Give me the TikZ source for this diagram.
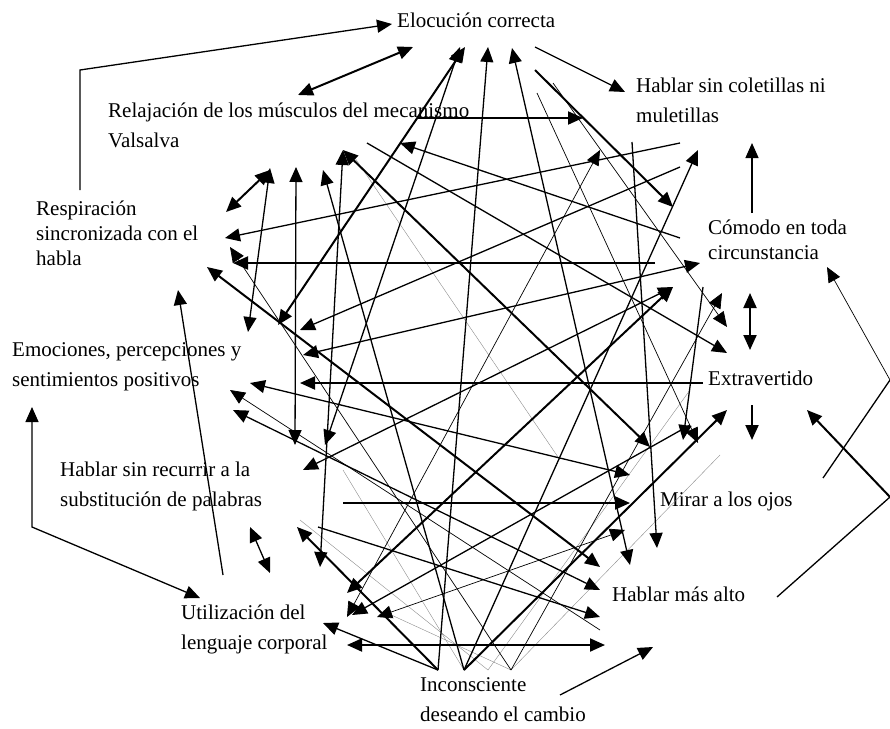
\documentclass[tikz,border=0pt]{standalone}
\usepackage{fontspec}
\setmainfont{Liberation Serif}
\usepackage{tikz}
\usetikzlibrary{arrows.meta}
\tikzset{
    lbl/.style={font=\fontsize{21}{30}\selectfont, align=left, inner sep=0pt, anchor=base west},
    lbltight/.style={lbl, font=\fontsize{21}{25}\selectfont},
    arr/.style={-{Triangle[length=15pt,width=13pt]}},
    dbl/.style={{Triangle[length=15pt,width=13pt]}-{Triangle[length=15pt,width=13pt]}},
    heavy/.style={line width=2pt},
    medium/.style={line width=1.3pt},
    fine/.style={line width=0.7pt},
    faint/.style={line width=0.4pt, black!45},
}

\begin{document}
\begin{tikzpicture}[x=1pt, y=-1pt]
    \useasboundingbox (0,0) rectangle (890,728);

    % Labels (anchored at the baseline of their last line)
    \node[lbl] (eloc) at (397,27) {Elocución correcta};
    \node[lbl] (relaj) at (108,147) {Relajación de los músculos del mecanismo\\Valsalva};
    \node[lbl] (coletillas) at (636,122) {Hablar sin coletillas ni\\muletillas};
    \node[lbltight] (resp) at (36,265) {Respiración\\sincronizada con el\\habla};
    \node[lbltight] (comodo) at (708,259) {Cómodo en toda\\circunstancia};
    \node[lbl] (emoc) at (12,386) {Emociones, percepciones y\\sentimientos positivos};
    \node[lbl] (extra) at (708,385) {Extravertido};
    \node[lbl] (recurrir) at (60,506) {Hablar sin recurrir a la\\substitución de palabras};
    \node[lbl] (mirar) at (660,506) {Mirar a los ojos};
    \node[lbl] (alto) at (612,601) {Hablar más alto};
    \node[lbl] (corporal) at (181,649) {Utilización del\\lenguaje corporal};
    \node[lbl] (incons) at (420,721) {Inconsciente\\deseando el cambio};

    % Fan points under Inconsciente and at the right edge
    \coordinate (ia) at (438,670);
    \coordinate (ib) at (464,670);
    \coordinate (ic) at (488,670);
    \coordinate (id) at (511,670);
    \coordinate (ra) at (890,380);
    \coordinate (rb) at (890,497);

    % Faint lines
    \draw[faint] (ic) -- (690,390);
    \draw[faint] (id) -- (720,455);
    \draw[faint] (ib) -- (343,470);
    \draw[faint] (ic) -- (300,520);
    \draw[faint] (id) -- (387,613);
    \draw[faint] (353,155) -- (560,460);

    % Fine lines
    \draw[fine, arr] (ra) -- (827,267);
    \draw[fine, arr] (537,93) -- (698,443);
    \draw[fine, arr] (553,83) -- (727,327);
    \draw[fine, arr] (id) -- (722,293);
    \draw[fine, dbl] (347,617) -- (600,150);
    \draw[fine, dbl] (377,617) -- (625,530);
    \draw[fine, arr] (id) -- (230,247);
    \draw[fine, arr] (600,630) -- (230,390);

    % Medium lines
    \draw[medium, arr] (80,190) -- (80,70) -- (392,24);
    \draw[medium, dbl] (270,168) -- (248,332);
    \draw[medium, dbl] (296,167) -- (295,445);
    \draw[medium, arr] (ib) -- (323,170);
    \draw[medium, dbl] (343,150) -- (320,567);
    \draw[medium, arr] (680,238) -- (400,143);
    \draw[medium, arr] (367,143) -- (727,353);
    \draw[medium, dbl] (460,47) -- (325,445);
    \draw[medium, arr] (ia) -- (488,47);
    \draw[medium, dbl] (512,48) -- (630,565);
    \draw[medium, arr] (535,47) -- (625,92);
    \draw[medium, arr] (680,143) -- (225,238);
    \draw[medium, arr] (680,167) -- (300,330);
    \draw[medium, dbl] (303,355) -- (700,263);
    \draw[medium, dbl] (250,383) -- (630,475);
    \draw[medium, dbl] (233,410) -- (600,590);
    \draw[medium, arr] (318,527) -- (600,617);
    \draw[medium, dbl] (250,527) -- (270,573);
    \draw[medium, dbl] (32,407) -- (32,527) -- (200,598);
    \draw[medium, arr] (223,575) -- (178,290);
    \draw[medium, arr] (ia) -- (323,623);
    \draw[medium, arr] (752,213) -- (752,143);
    \draw[medium] (823,478) -- (ra);
    \draw[medium] (777,597) -- (rb);
    \draw[medium, arr] (560,695) -- (653,647);
    \draw[medium, arr] (632,142) -- (657,548);
    \draw[medium, arr] (703,287) -- (683,440);
    \draw[medium, arr] (ib) -- (698,150);
    \draw[medium, dbl] (303,470) -- (673,287);
    \draw[medium, arr] (690,425) -- (352,615);

    % Heavy lines
    \draw[heavy, dbl] (298,95) -- (413,47);
    \draw[heavy, dbl] (226,212) -- (270,170);
    \draw[heavy, dbl] (343,150) -- (650,447);
    \draw[heavy, dbl] (465,47) -- (278,325);
    \draw[heavy, arr] (535,70) -- (673,207);
    \draw[heavy, arr] (417,118) -- (583,118);
    \draw[heavy, arr] (655,263) -- (233,263);
    \draw[heavy, dbl] (207,267) -- (600,567);
    \draw[heavy, arr] (703,383) -- (300,383);
    \draw[heavy, arr] (343,503) -- (630,503);
    \draw[heavy, dbl] (347,645) -- (605,645);
    \draw[heavy, arr] (ia) -- (297,527);
    \draw[heavy, dbl] (347,593) -- (673,287);
    \draw[heavy, arr] (ib) -- (727,410);
    \draw[heavy, dbl] (750,293) -- (750,350);
    \draw[heavy, arr] (752,405) -- (752,440);
    \draw[heavy, arr] (rb) -- (807,410);

\end{tikzpicture}
\end{document}
